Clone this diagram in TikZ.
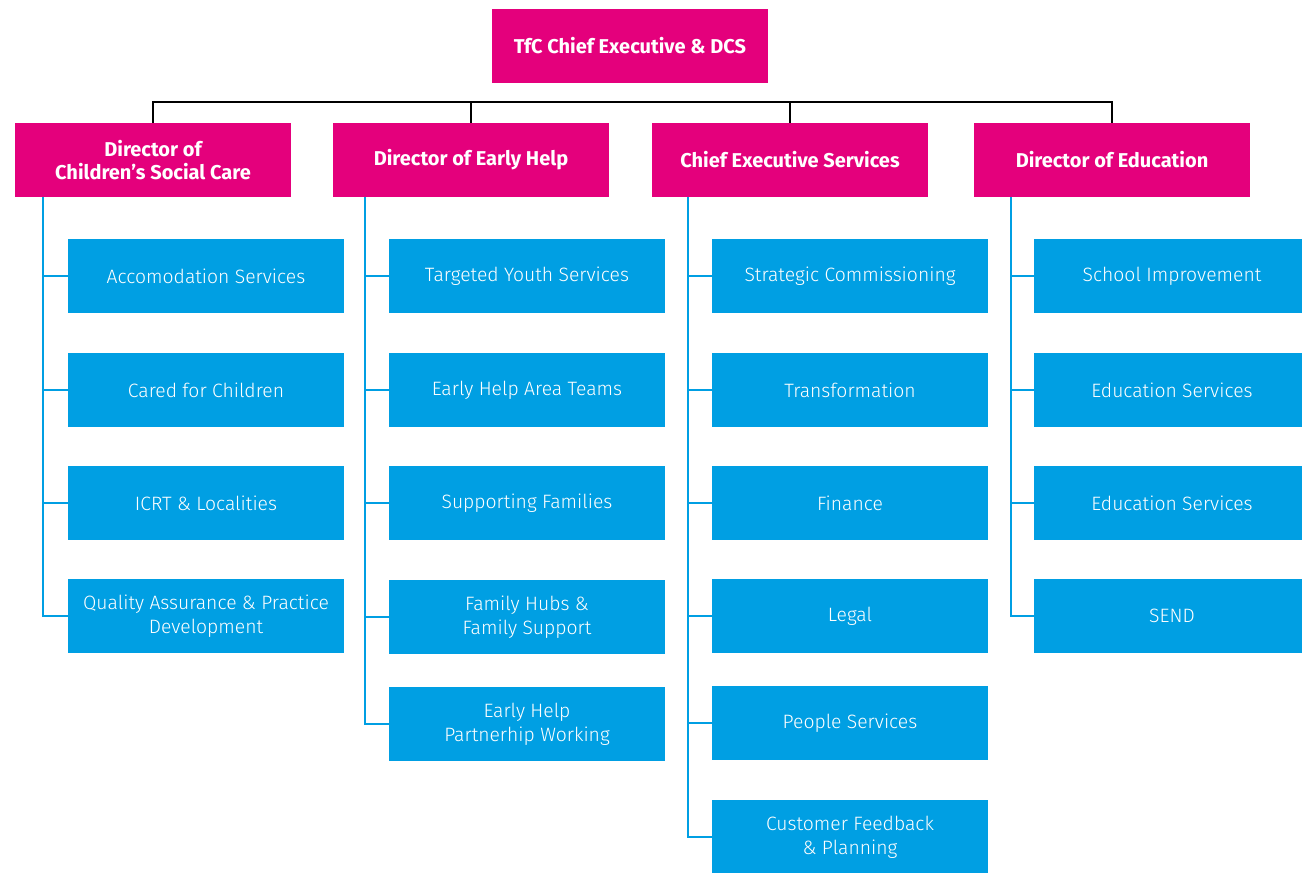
\documentclass[tikz,border=0pt]{standalone}
\usepackage{fontspec}
\setmainfont{Fira Sans}
\newfontfamily\thinfont{Fira Sans Light}
\definecolor{tfcpink}{HTML}{E4007C}
\definecolor{tfcblue}{HTML}{009FE3}
\begin{document}
\begin{tikzpicture}
  [x=0.75pt,y=-0.75pt,
   every node/.style={minimum width=207pt, minimum height=55.5pt, inner sep=2pt,
     align=center, text=white},
   head/.style={fill=tfcpink, font=\fontsize{15}{17.5}\selectfont\bfseries},
   team/.style={fill=tfcblue, font=\fontsize{14.5}{18}\selectfont\thinfont},
   bus/.style={draw=black, line width=2pt},
   branch/.style={draw=tfcblue, line width=2.2pt}]
  \useasboundingbox (0,0) rectangle (1302,872);
  \fill[white] (0,0) rectangle (1302,872);

  \node[head] (ceo) at (630,46)  {TfC Chief Executive \& DCS};
  \node[head] (d1) at (153,160)  {Director of\\Children’s Social Care};
  \node[head] (d2) at (471,160)  {Director of Early Help};
  \node[head] (d3) at (790,160)  {Chief Executive Services};
  \node[head] (d4) at (1112,160) {Director of Education};

  % children's social care
  \node[team] (c1a) at (206,276) {Accomodation Services};
  \node[team] (c1b) at (206,390) {Cared for Children};
  \node[team] (c1c) at (206,503) {ICRT \& Localities};
  \node[team] (c1d) at (206,616) {Quality Assurance \& Practice\\Development};

  % early help
  \node[team] (c2a) at (527,276) {Targeted Youth Services};
  \node[team] (c2b) at (527,390) {Early Help Area Teams};
  \node[team] (c2c) at (527,503) {Supporting Families};
  \node[team] (c2d) at (527,617) {Family Hubs \&\\Family Support};
  \node[team] (c2e) at (527,724) {Early Help\\Partnerhip Working};

  % chief executive services
  \node[team] (c3a) at (850,276) {Strategic Commissioning};
  \node[team] (c3b) at (850,390) {Transformation};
  \node[team] (c3c) at (850,503) {Finance};
  \node[team] (c3d) at (850,616) {Legal};
  \node[team] (c3e) at (850,723) {People Services};
  \node[team] (c3f) at (850,837) {Customer Feedback\\\& Planning};

  % education
  \node[team] (c4a) at (1172,276) {School Improvement};
  \node[team] (c4b) at (1172,390) {Education Services};
  \node[team] (c4c) at (1172,503) {Education Services};
  \node[team] (c4d) at (1172,616) {SEND};

  \coordinate (top) at (630,102);
  \coordinate (t1) at (43,197);
  \coordinate (t2) at (365,197);
  \coordinate (t3) at (688,197);
  \coordinate (t4) at (1011,197);

  \draw[bus] (d1.north) |- (top) -| (d4.north);
  \foreach \d in {d2,d3}
    \draw[bus] (\d.north) -- (\d.north |- top);

  \foreach \from/\to in {t1/c1a,t1/c1b,t1/c1c,t1/c1d,
      t2/c2a,t2/c2b,t2/c2c,t2/c2d,t2/c2e,
      t3/c3a,t3/c3b,t3/c3c,t3/c3d,t3/c3e,t3/c3f,
      t4/c4a,t4/c4b,t4/c4c,t4/c4d}
    \draw[branch] (\from) |- (\to.west);

\end{tikzpicture}
\end{document}
